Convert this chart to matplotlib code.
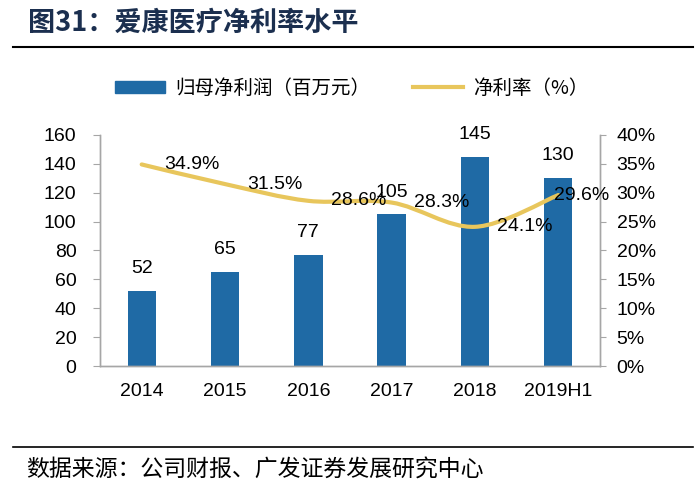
import matplotlib
matplotlib.use("Agg")
import matplotlib.pyplot as plt
from matplotlib.path import Path
from matplotlib.patches import PathPatch
from matplotlib.lines import Line2D
from matplotlib.patches import Patch
from matplotlib.ticker import PercentFormatter

plt.rcParams['font.family'] = ['Liberation Sans', 'Noto Sans CJK SC', 'DejaVu Sans']

years = ['2014', '2015', '2016', '2017', '2018', '2019H1']
profit = [52, 65, 77, 105, 145, 130]          # 归母净利润（百万元）
margin = [0.349, 0.315, 0.286, 0.283, 0.241, 0.296]   # 净利率
margin_labels = ['34.9%', '31.5%', '28.6%', '28.3%', '24.1%', '29.6%']

bar_color = '#1F6AA5'
line_color = '#E8C65C'
axis_color = '#A6A6A6'
cjk = ['Noto Sans CJK SC', 'DejaVu Sans']

fig = plt.figure(figsize=(7, 4.95), dpi=100)
ax = fig.add_axes([0.1429, 0.2606, 0.7142, 0.4667])
ax2 = ax.twinx()

x = list(range(len(years)))
ax.bar(x, profit, width=0.34, color=bar_color, zorder=2)
for xi, v in zip(x, profit):
    ax.annotate(str(v), (xi, v), xytext=(0, 10), textcoords='offset points',
                ha='center', va='bottom', fontsize=14, color='black')

# smoothed line (bezier through the data points)
pts = list(zip(x, margin))
verts = [pts[0]]
codes = [Path.MOVETO]
n = len(pts)
for i in range(n - 1):
    p0 = pts[max(i - 1, 0)]
    p1 = pts[i]
    p2 = pts[i + 1]
    p3 = pts[min(i + 2, n - 1)]
    c1 = (p1[0] + (p2[0] - p0[0]) / 6, p1[1] + (p2[1] - p0[1]) / 6)
    c2 = (p2[0] - (p3[0] - p1[0]) / 6, p2[1] - (p3[1] - p1[1]) / 6)
    verts += [c1, c2, p2]
    codes += [Path.CURVE4] * 3
ax2.add_patch(PathPatch(Path(verts, codes), facecolor='none', edgecolor=line_color,
                        lw=3, capstyle='round', zorder=3))

offsets = [16, 16, 16, 16, 16, -3]
for xi, v, lab, off in zip(x, margin, margin_labels, offsets):
    ax2.annotate(lab, (xi, v), xytext=(off, 0), textcoords='offset points',
                 ha='left', va='center', fontsize=14, color='black', zorder=4)

ax.set_xlim(-0.5, len(years) - 0.5)
ax.set_ylim(0, 160)
ax.set_yticks(range(0, 161, 20))
ax2.set_ylim(0, 0.4)
ax2.set_yticks([i * 0.05 for i in range(9)])
ax2.yaxis.set_major_formatter(PercentFormatter(1.0, decimals=0))
ax.set_xticks(x)
ax.set_xticklabels(years)

for a in (ax, ax2):
    a.spines['top'].set_visible(False)
    for s in ('left', 'right', 'bottom'):
        a.spines[s].set_color(axis_color)
        a.spines[s].set_linewidth(1)
ax.tick_params(axis='y', length=5, color=axis_color, labelsize=14, pad=12)
ax2.tick_params(axis='y', length=4, color=axis_color, labelsize=14, pad=8)
ax.tick_params(axis='x', length=0, labelsize=14, pad=12)
ax.set_zorder(ax2.get_zorder() - 1)
ax2.patch.set_visible(False)

handles = [Patch(color=bar_color), Line2D([0], [0], color=line_color, lw=3)]
fig.legend(handles, ['归母净利润（百万元）', '净利率（%）'], loc='center',
           bbox_to_anchor=(0.502, 0.822), ncol=2, frameon=False,
           prop={'family': cjk, 'size': 14}, handlelength=2.6, handleheight=0.55,
           handletextpad=0.5, columnspacing=2.2)

fig.text(0.04, 0.953, '图31：爱康医疗净利率水平', fontsize=19.5, fontweight='bold',
         color='#1B2F4F', family=cjk, ha='left', va='center')
fig.add_artist(Line2D([0.018, 0.99], [0.905, 0.905], color='black', lw=1.5))
fig.add_artist(Line2D([0.018, 0.99], [0.097, 0.097], color='black', lw=1.2))
fig.text(0.038, 0.05, '数据来源：公司财报、广发证券发展研究中心', fontsize=16.5,
         color='black', family=cjk, ha='left', va='center')

fig.savefig('out.png', dpi=100)
